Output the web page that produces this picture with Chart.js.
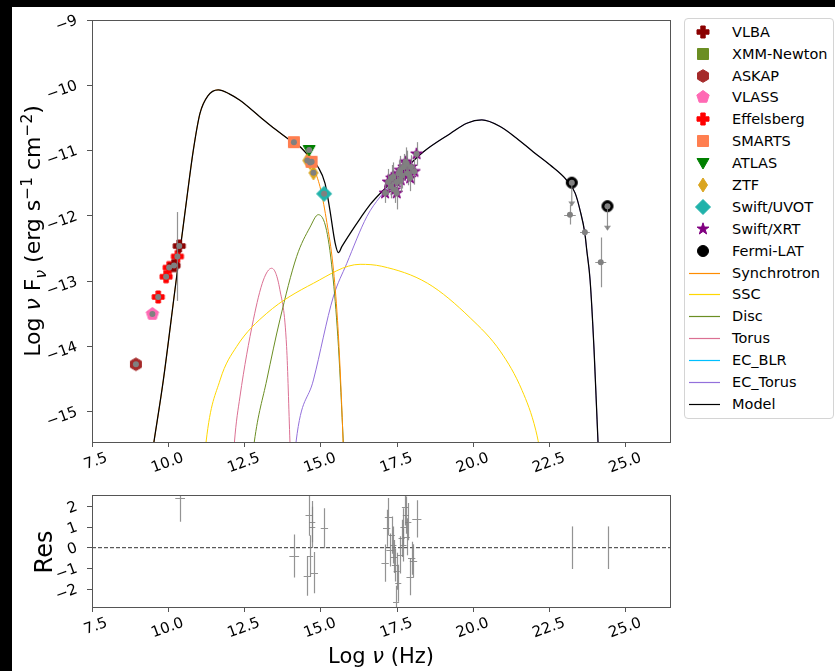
<!DOCTYPE html>
<html><head><meta charset="utf-8">
<script src="https://cdn.jsdelivr.net/npm/chart.js@4.4.1/dist/chart.umd.min.js"></script>
<style>
html,body{margin:0;padding:0;background:#000;}
#fig{position:relative;width:835px;height:671px;overflow:hidden;background:#000;font-family:'DejaVu Sans',sans-serif;}
#paper{position:absolute;left:12px;top:7px;width:823px;height:664px;background:#fff;}
canvas{position:absolute;}
#main{left:0;top:0;}
#res{left:0;top:480px;}
.ylab{position:absolute;white-space:nowrap;transform:translate(-50%,-50%) rotate(-90deg);color:#000;}
.xlab{position:absolute;white-space:nowrap;transform:translate(-50%,-50%);color:#000;}
#legend{position:absolute;left:684px;top:18px;width:150px;height:401px;box-sizing:border-box;border:1px solid #d4d4d4;border-radius:4px;background:#fff;}
.lt{position:absolute;left:732px;height:20px;font-size:14.5px;line-height:20px;color:#000;white-space:nowrap;}
.ls{position:absolute;left:688px;}
sub,sup{font-size:70%;}
</style></head>
<body><div id="fig"><div id="paper"></div>
<canvas id="main" width="680" height="480"></canvas>
<canvas id="res" width="680" height="191"></canvas>
<div class="ylab" style="left:34px;top:231px;font-size:22px;">Log <i>ν</i> F<sub><i>ν</i></sub> (erg s<sup>−1</sup> cm<sup>−2</sup>)</div>
<div class="ylab" style="left:44px;top:552px;font-size:24px;">Res</div>
<div class="xlab" style="left:381px;top:656px;font-size:21px;">Log <i>ν</i> (Hz)</div>
<div id="legend"></div>
</div>
<script>
const FONT = "'DejaVu Sans', sans-serif";
// ---- tick labels ----
const xTickVals = [7.5, 10, 12.5, 15, 17.5, 20, 22.5, 25];
const xTickLabels = ['7.5', '10.0', '12.5', '15.0', '17.5', '20.0', '22.5', '25.0'];
const yTickVals = [-15, -14, -13, -12, -11, -10, -9];
const yTickLabels = ['−15', '−14', '−13', '−12', '−11', '−10', '−9'];
const resTickVals = [-2, -1, 0, 1, 2];
const resTickLabels = ['−2', '−1', '0', '1', '2'];

// ---- observed data (log nu, log nuFnu) ----
const vlbaX = [10.19, 10.36];
const vlbaY = [-12.76, -12.46];
const xmmX = [];
const xmmY = [];
const askapX = [8.94];
const askapY = [-14.27];
const vlassX = [9.48];
const vlassY = [-13.50];
const effX = [9.67, 9.93, 10.03, 10.30];
const effY = [-13.24, -12.93, -12.79, -12.62];
const effYerr = [0, 0, 0, 0.68];
const smartsX = [14.12, 14.70];
const smartsY = [-10.87, -11.17];
const atlasX = [14.62];
const atlasY = [-10.99];
const ztfX = [14.56, 14.65, 14.76];
const ztfY = [-11.15, -11.18, -11.34];
const uvotX = [15.11];
const uvotY = [-11.66];
const xrtX = [17.11, 17.21, 17.30, 17.32, 17.38, 17.42, 17.49, 17.49, 17.55, 17.60, 17.62, 17.66, 17.72, 17.78, 17.82, 17.85, 17.93, 17.96, 18.07, 18.14];
const xrtY = [-11.65, -11.48, -11.55, -11.42, -11.40, -11.60, -11.48, -11.65, -11.35, -11.30, -11.45, -11.38, -11.25, -11.17, -11.20, -11.35, -11.42, -11.25, -11.32, -11.05];
const xrtYerr = [0.15, 0.20, 0.18, 0.20, 0.22, 0.20, 0.18, 0.25, 0.20, 0.22, 0.18, 0.20, 0.20, 0.22, 0.20, 0.18, 0.20, 0.18, 0.20, 0.18];
const fermiX = [23.23, 24.40];
const fermiY = [-11.49, -11.85];
const fermiUL = [0.35, 0.36];
const latX = [23.17, 23.66, 24.18];
const latY = [-11.98, -12.25, -12.71];
const latXerr = [0.19, 0.16, 0.18];
const latYerr = [0.15, 0.05, 0.38];

// ---- model components ----
const modelX = [9.38, 9.53, 9.84, 10.22, 10.60, 10.82, 11.04, 11.30, 11.64, 12.00, 12.35, 13.00, 13.50, 13.99, 14.32, 14.58, 14.91, 15.14, 15.30, 15.47, 15.58, 15.69, 15.96, 16.29, 16.61, 17.00, 17.50, 18.36, 19.24, 19.79, 20.28, 20.88, 21.42, 21.97, 22.52, 23.06, 23.34, 23.50, 23.66, 23.72, 23.83, 23.96, 24.09, 24.15];
const modelY = [-15.92, -15.46, -14.51, -13.13, -11.76, -11.00, -10.43, -10.16, -10.07, -10.13, -10.23, -10.48, -10.67, -10.84, -10.94, -11.07, -11.25, -11.50, -11.91, -12.41, -12.56, -12.47, -12.27, -12.04, -11.83, -11.63, -11.40, -11.02, -10.74, -10.58, -10.53, -10.63, -10.81, -11.02, -11.22, -11.45, -11.65, -11.91, -12.27, -12.52, -12.98, -14.05, -15.46, -16.00];
const syncX = [9.38, 9.53, 9.84, 10.22, 10.60, 10.82, 11.04, 11.30, 11.64, 12.00, 12.35, 13.00, 13.50, 13.99, 14.32, 14.58, 14.80, 15.00, 15.20, 15.40, 15.55, 15.65, 15.72, 15.78];
const syncY = [-15.92, -15.46, -14.51, -13.13, -11.76, -11.00, -10.43, -10.16, -10.07, -10.13, -10.23, -10.48, -10.67, -10.84, -10.94, -11.08, -11.30, -11.60, -12.10, -12.75, -13.60, -14.50, -15.30, -16.20];
const sscX = [11.15, 11.24, 11.70, 12.24, 13.23, 14.76, 16.29, 17.00, 18.50, 19.90, 20.90, 21.60, 22.05, 22.35];
const sscY = [-16.00, -15.46, -14.51, -14.00, -13.49, -13.03, -12.74, -12.77, -13.03, -13.56, -14.08, -14.67, -15.28, -16.00];
const discX = [12.70, 12.82, 13.23, 13.66, 14.21, 14.65, 14.92, 15.19, 15.41, 15.58, 15.74, 15.80];
const discY = [-16.00, -15.46, -14.51, -13.59, -12.62, -12.17, -11.98, -12.22, -12.98, -14.00, -15.46, -16.00];
const torusX = [12.10, 12.17, 12.35, 12.79, 13.12, 13.39, 13.66, 13.88, 13.99, 14.03];
const torusY = [-16.00, -15.46, -14.77, -13.59, -12.98, -12.80, -13.13, -14.00, -15.46, -16.00];
const ecBlrX = [];
const ecBlrY = [];
const ecTorusX = [14.10, 14.19, 14.76, 15.41, 15.85, 16.51, 16.94, 17.50, 18.36, 19.24, 19.79, 20.28, 20.88, 21.42, 21.97, 22.52, 23.06, 23.34, 23.50, 23.66, 23.72, 23.83, 23.96, 24.09, 24.15];
const ecTorusY = [-16.00, -15.46, -14.51, -13.24, -12.73, -12.01, -11.71, -11.42, -11.02, -10.74, -10.58, -10.53, -10.63, -10.81, -11.02, -11.22, -11.45, -11.65, -11.91, -12.27, -12.52, -12.98, -14.05, -15.46, -16.00];

// ---- residuals ----
const resX = [10.39, 14.13, 14.56, 14.62, 14.65, 14.72, 14.72, 14.79, 15.12, 17.11, 17.16, 17.22, 17.27, 17.33, 17.38, 17.40, 17.43, 17.47, 17.49, 17.54, 17.60, 17.65, 17.71, 17.71, 17.76, 17.79, 17.82, 17.87, 17.93, 17.98, 18.04, 18.15, 23.25, 24.41];
const resY = [2.40, -0.40, -1.37, 1.58, -0.40, 1.26, 0.98, -1.21, 0.94, -0.75, 0.94, 1.50, -0.11, 0.61, 0.13, -0.43, -0.84, -2.64, -1.14, -1.72, -0.35, 0.45, 1.01, 0.13, 1.98, 1.58, 0.53, 1.26, -1.40, -0.51, -0.63, 1.39, 0.00, 0.00];
const resXerr = [0.16, 0.16, 0.12, 0.12, 0.10, 0.10, 0.10, 0.12, 0.12, 0.12, 0.12, 0.12, 0.12, 0.10, 0.10, 0.10, 0.10, 0.10, 0.10, 0.10, 0.10, 0.10, 0.10, 0.10, 0.10, 0.10, 0.10, 0.10, 0.12, 0.12, 0.12, 0.15, 0.00, 0.00];
const resYerr = [1.15, 1.04, 0.95, 1.00, 1.00, 1.00, 1.00, 1.00, 0.97, 0.90, 0.90, 0.90, 0.80, 0.90, 0.90, 0.80, 0.80, 0.80, 0.90, 0.90, 0.90, 0.90, 0.90, 0.80, 0.90, 0.90, 0.90, 0.90, 0.90, 0.80, 0.80, 0.90, 1.03, 1.03];
const zeroX = [7.5, 26.45];
const zeroY = [0, 0];

// ---- helpers ----
const pts = (xs, ys) => xs.map((x, i) => ({x: x, y: ys[i]}));
function marker(shape, color) {
  const s = 18, c = document.createElement('canvas');
  c.width = s; c.height = s;
  const g = c.getContext('2d');
  g.translate(s / 2, s / 2);
  g.fillStyle = color; g.strokeStyle = color; g.lineWidth = 1;
  g.beginPath();
  const poly = (n, r, a0) => { for (let k = 0; k < n; k++) { const a = a0 + k * 2 * Math.PI / n; const px = r * Math.cos(a), py = r * Math.sin(a); k ? g.lineTo(px, py) : g.moveTo(px, py); } };
  if (shape === 'plus') { const a = 6, b = 2.2; [[-b,-a],[b,-a],[b,-b],[a,-b],[a,b],[b,b],[b,a],[-b,a],[-b,b],[-a,b],[-a,-b],[-b,-b]].forEach((p, k) => k ? g.lineTo(p[0], p[1]) : g.moveTo(p[0], p[1])); }
  else if (shape === 'square') g.rect(-5.5, -5.5, 11, 11);
  else if (shape === 'hexagon') poly(6, 6.3, -Math.PI / 2);
  else if (shape === 'pentagon') poly(5, 6.5, -Math.PI / 2);
  else if (shape === 'tridown') { g.moveTo(-6, -4.5); g.lineTo(6, -4.5); g.lineTo(0, 6); }
  else if (shape === 'thindiamond') { g.moveTo(0, -7); g.lineTo(4.5, 0); g.lineTo(0, 7); g.lineTo(-4.5, 0); }
  else if (shape === 'diamond') { g.moveTo(0, -7.5); g.lineTo(7.5, 0); g.lineTo(0, 7.5); g.lineTo(-7.5, 0); }
  else if (shape === 'star') { for (let k = 0; k < 10; k++) { const r = k % 2 ? 2.4 : 6.2; const a = -Math.PI / 2 + k * Math.PI / 5; const px = r * Math.cos(a), py = r * Math.sin(a); k ? g.lineTo(px, py) : g.moveTo(px, py); } }
  else if (shape === 'circle') g.arc(0, 0, 5.5, 0, 2 * Math.PI);
  g.closePath(); g.fill(); g.stroke();
  return c;
}
const GREY = '#808080';
const obs = [
  {label: 'VLBA', x: vlbaX, y: vlbaY, shape: 'plus', color: '#8B0000'},
  {label: 'XMM-Newton', x: xmmX, y: xmmY, shape: 'square', color: '#6B8E23'},
  {label: 'ASKAP', x: askapX, y: askapY, shape: 'hexagon', color: '#A52A2A'},
  {label: 'VLASS', x: vlassX, y: vlassY, shape: 'pentagon', color: '#FF69B4'},
  {label: 'Effelsberg', x: effX, y: effY, shape: 'plus', color: '#FF0000', yerr: effYerr},
  {label: 'SMARTS', x: smartsX, y: smartsY, shape: 'square', color: '#FF7F50'},
  {label: 'ATLAS', x: atlasX, y: atlasY, shape: 'tridown', color: '#008000'},
  {label: 'ZTF', x: ztfX, y: ztfY, shape: 'thindiamond', color: '#DAA520'},
  {label: 'Swift/UVOT', x: uvotX, y: uvotY, shape: 'diamond', color: '#20B2AA'},
  {label: 'Swift/XRT', x: xrtX, y: xrtY, shape: 'star', color: '#800080', yerr: xrtYerr},
  {label: 'Fermi-LAT', x: fermiX, y: fermiY, shape: 'circle', color: '#000000', ul: fermiUL}
];
const comps = [
  {label: 'Synchrotron', x: syncX, y: syncY, color: '#FF8C00'},
  {label: 'SSC', x: sscX, y: sscY, color: '#FFD700'},
  {label: 'Disc', x: discX, y: discY, color: '#6B8E23'},
  {label: 'Torus', x: torusX, y: torusY, color: '#DB7093'},
  {label: 'EC_BLR', x: ecBlrX, y: ecBlrY, color: '#00BFFF'},
  {label: 'EC_Torus', x: ecTorusX, y: ecTorusY, color: '#9370DB'},
  {label: 'Model', x: modelX, y: modelY, color: '#000000'}
];

// ---- plugins ----
const framePlugin = {
  id: 'frame',
  afterDatasetsDraw(chart) {
    const {ctx, chartArea: a} = chart;
    ctx.save(); ctx.strokeStyle = '#555'; ctx.lineWidth = 1;
    ctx.strokeRect(Math.round(a.left) + 0.5, Math.round(a.top) + 0.5, Math.round(a.right - a.left), Math.round(a.bottom - a.top));
    ctx.restore();
  }
};
const errPlugin = {
  id: 'errbars',
  afterDatasetsDraw(chart) {
    const {ctx, chartArea: a, scales: {x, y}} = chart;
    ctx.save();
    ctx.beginPath(); ctx.rect(a.left, a.top, a.right - a.left, a.bottom - a.top); ctx.clip();
    chart.data.datasets.forEach(ds => {
      const e = ds.err; if (!e) return;
      ds.data.forEach((p, i) => {
        const px = x.getPixelForValue(p.x), py = y.getPixelForValue(p.y);
        ctx.strokeStyle = e.color; ctx.lineWidth = 1.2;
        const ye = e.y ? e.y[i] : 0, xe = e.x ? e.x[i] : 0;
        ctx.beginPath();
        if (ye) { ctx.moveTo(Math.round(px) + 0.5, y.getPixelForValue(p.y - ye)); ctx.lineTo(Math.round(px) + 0.5, y.getPixelForValue(p.y + ye)); }
        if (xe) { ctx.moveTo(x.getPixelForValue(p.x - xe), Math.round(py) + 0.5); ctx.lineTo(x.getPixelForValue(p.x + xe), Math.round(py) + 0.5); }
        ctx.stroke();
        if (e.ul && e.ul[i]) {
          const ey = y.getPixelForValue(p.y - e.ul[i]);
          ctx.beginPath(); ctx.moveTo(px, py); ctx.lineTo(px, ey); ctx.stroke();
          ctx.fillStyle = e.color; ctx.beginPath(); ctx.moveTo(px - 3.5, ey - 4); ctx.lineTo(px + 3.5, ey - 4); ctx.lineTo(px, ey + 1); ctx.closePath(); ctx.fill();
        }
        if (e.dot) { ctx.fillStyle = e.dot; ctx.beginPath(); ctx.arc(px, py, 3, 0, 2 * Math.PI); ctx.fill(); }
      });
    });
    ctx.restore();
  }
};
const noPad = s => { s.paddingTop = 0; s.paddingBottom = 0; s.paddingLeft = 0; s.paddingRight = 0; };

function xScale(h) {
  return {
    type: 'linear', min: 7.5, max: 26.45,
    afterBuildTicks: s => { s.ticks = xTickVals.map(v => ({value: v})); },
    afterFit: s => { s.height = h; noPad(s); },
    ticks: {autoSkip: false, minRotation: 20, maxRotation: 20, labelOffset: 15, padding: 2, color: '#000', font: {family: FONT, size: 15},
      callback: v => xTickLabels[xTickVals.indexOf(v)]},
    grid: {drawOnChartArea: false, drawTicks: true, tickLength: 5, color: '#555'},
    border: {display: false}
  };
}
function yScale(min, max, vals, labels) {
  return {
    type: 'linear', min: min, max: max,
    afterBuildTicks: s => { s.ticks = vals.map(v => ({value: v})); },
    afterFit: s => { s.width = 92; noPad(s); },
    ticks: {autoSkip: false, minRotation: 20, maxRotation: 20, padding: 10, color: '#000', font: {family: FONT, size: 15},
      callback: v => labels[vals.indexOf(v)]},
    grid: {drawOnChartArea: false, drawTicks: true, tickLength: 5, color: '#555'},
    border: {display: false}
  };
}

// ---- main chart ----
const mainSets = [];
comps.forEach((c, k) => mainSets.push({
  label: c.label, data: pts(c.x, c.y), showLine: true, borderColor: c.color, backgroundColor: c.color,
  borderWidth: c.label === 'Model' ? 1.25 : 1, pointRadius: 0, cubicInterpolationMode: 'monotone', order: 20 - (c.label === 'Model' ? 10 : 0) + k
}));
obs.forEach((o, k) => mainSets.push({
  label: o.label, data: pts(o.x, o.y), showLine: false, pointStyle: marker(o.shape, o.color), pointRadius: 7,
  borderColor: o.color, backgroundColor: o.color, order: 1,
  err: {color: 'rgba(128,128,128,0.85)', y: o.yerr, ul: o.ul, dot: GREY}
}));
mainSets.push({
  label: 'LAT points', data: pts(latX, latY), showLine: false, pointRadius: 0, order: 0,
  err: {color: 'rgba(128,128,128,0.85)', x: latXerr, y: latYerr, dot: GREY}
});

new Chart(document.getElementById('main'), {
  type: 'scatter',
  data: {datasets: mainSets},
  options: {
    responsive: false, animation: false, devicePixelRatio: 1,
    layout: {padding: {top: 20, right: 10, left: 0, bottom: 0}},
    plugins: {legend: {display: false}, tooltip: {enabled: false}},
    scales: {x: xScale(38), y: yScale(-15.46, -9, yTickVals, yTickLabels)}
  },
  plugins: [errPlugin, framePlugin]
});

// ---- residual chart ----
new Chart(document.getElementById('res'), {
  type: 'scatter',
  data: {datasets: [
    {label: 'zero', data: pts(zeroX, zeroY), showLine: true, borderColor: '#333', borderWidth: 1, borderDash: [4, 2], pointRadius: 0, order: 5},
    {label: 'Res', data: pts(resX, resY), showLine: false, pointRadius: 0, order: 1,
      err: {color: 'rgba(128,128,128,0.85)', x: resXerr, y: resYerr}}
  ]},
  options: {
    responsive: false, animation: false, devicePixelRatio: 1,
    layout: {padding: {top: 15, right: 10, left: 0, bottom: 0}},
    plugins: {legend: {display: false}, tooltip: {enabled: false}},
    scales: {x: xScale(64), y: yScale(-2.87, 2.55, resTickVals, resTickLabels)}
  },
  plugins: [errPlugin, framePlugin]
});

// ---- legend ----
const fig = document.getElementById('fig');
const legendItems = obs.map(o => ({label: o.label, shape: o.shape, color: o.color})).concat(comps.map(c => ({label: c.label, line: c.color})));
legendItems.forEach((it, i) => {
  const cy = 31.7 + i * 21.9;
  const cv = document.createElement('canvas');
  cv.width = 34; cv.height = 20; cv.className = 'ls';
  cv.style.top = Math.round(cy - 10) + 'px';
  const g = cv.getContext('2d');
  if (it.line) { g.strokeStyle = it.line; g.lineWidth = 1.2; g.beginPath(); g.moveTo(1, 10.5); g.lineTo(32, 10.5); g.stroke(); }
  else { g.drawImage(marker(it.shape, it.color), 15 - 9, 10 - 9); }
  fig.appendChild(cv);
  const t = document.createElement('div');
  t.className = 'lt'; t.style.top = Math.round(cy - 10) + 'px'; t.textContent = it.label;
  fig.appendChild(t);
});
</script>
</body></html>
